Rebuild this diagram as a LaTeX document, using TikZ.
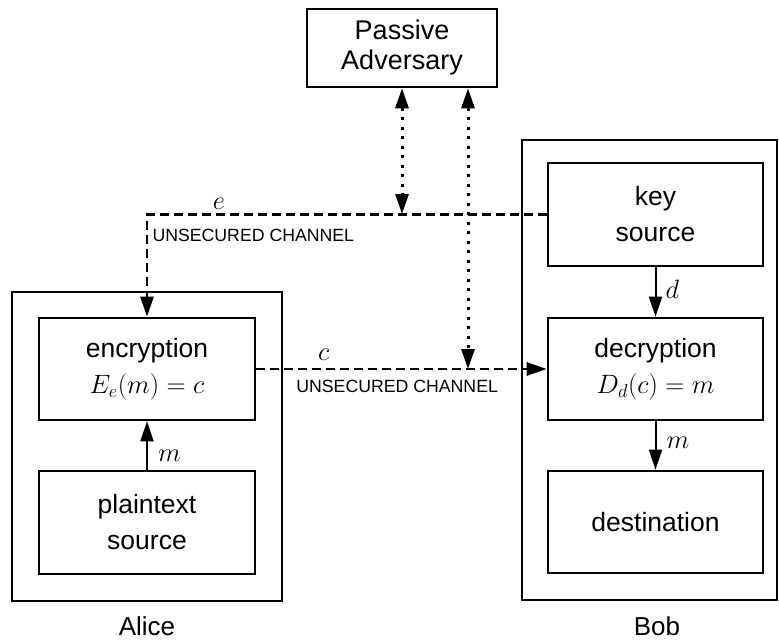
\RequirePackage{fix-cm}
\documentclass[tikz,border=0pt]{standalone}
\usepackage{fontspec}
\setmainfont{Liberation Sans}
\usetikzlibrary{arrows.meta,calc}
\begin{document}
\begin{tikzpicture}[x=1pt,y=-1pt,
  mybox/.style={draw,line width=2.6pt,align=center,inner sep=0pt,
    font=\fontsize{26.5}{36}\selectfont},
  outerbox/.style={draw,line width=2.6pt,inner sep=0pt},
  solidarrow/.style={line width=2pt,-{Triangle[length=20pt,width=13pt]}},
  chanline/.style={line width=2.8pt,dash pattern=on 9pt off 5pt,-{Triangle[length=20pt,width=13pt]}},
  spyline/.style={line width=3pt,dash pattern=on 3pt off 6.5pt,
    {Triangle[length=20pt,width=13pt]}-{Triangle[length=20pt,width=13pt]}},
  mathlbl/.style={inner sep=0pt,font=\fontsize{26.5}{30}\selectfont},
  chlbl/.style={inner sep=0pt,font=\fontsize{17.7}{20}\selectfont},
  partylbl/.style={inner sep=0pt,font=\fontsize{26}{30}\selectfont}]
\useasboundingbox (0,0) rectangle (779,640);

% outer boxes
\node[outerbox,minimum width=270pt,minimum height=309pt] (alice) at (147,446.5) {};
\node[outerbox,minimum width=255pt,minimum height=460pt] (bob) at (649.5,370) {};

% inner boxes
\node[mybox,minimum width=190pt,minimum height=78pt,font=\fontsize{27}{30}\selectfont] (adv) at (402,48) {Passive\\Adversary};
\node[mybox,minimum width=216pt,minimum height=102pt] (enc) at (147,369) {encryption\\$E_e(m)=c$};
\node[mybox,minimum width=216pt,minimum height=103pt] (plain) at (147,522.5) {plaintext\\source};
\node[mybox,minimum width=215pt,minimum height=103pt] (key) at (655.5,214.5) {key\\source};
\node[mybox,minimum width=215pt,minimum height=102pt] (dec) at (655.5,369) {decryption\\$D_d(c)=m$};
\node[mybox,minimum width=215pt,minimum height=102pt] (dest) at (655.5,522) {destination};

% names
\node[partylbl] (alicename) at (147,626) {Alice};
\node[partylbl] (bobname) at (657,626) {Bob};

% solid arrows
\draw[solidarrow] (plain) -- node[mathlbl,pos=.28,anchor=west,xshift=10pt] {$m$} (enc);
\draw[solidarrow] (key) -- node[mathlbl,pos=.44,anchor=west,xshift=9pt] {$d$} (dec);
\draw[solidarrow] (dec) -- node[mathlbl,pos=.45,anchor=west,xshift=10pt] {$m$} (dest);

% channels
\draw[chanline] (key.west) -| node[mathlbl,pos=.41,yshift=11pt] {$e$}
  node[chlbl,pos=.367,yshift=-21pt] {UNSECURED CHANNEL} (enc.north);
\draw[chanline] (enc.east) -- node[mathlbl,pos=.232,yshift=14pt] {$c$}
  node[chlbl,pos=.485,yshift=-17pt] {UNSECURED CHANNEL} (dec.west);

% eavesdropping
\coordinate (etap) at (402,214);
\coordinate (ctap) at (468,369);
\draw[spyline] (etap |- adv.south) -- (etap);
\draw[spyline] (ctap |- adv.south) -- (ctap);
\end{tikzpicture}
\end{document}
